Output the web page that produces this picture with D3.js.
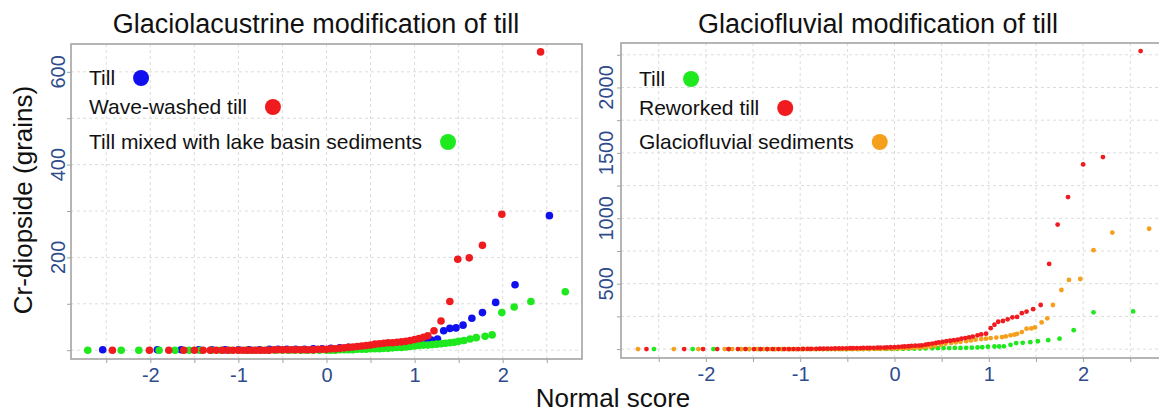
<!DOCTYPE html>
<html>
<head>
<meta charset="utf-8">
<script src="https://cdn.jsdelivr.net/npm/d3@7"></script>
<style>
  body { margin: 0; background: #fff; }
  svg { display: block; font-family: "Liberation Sans", Arial, sans-serif; }
</style>
</head>
<body>
<script>
// ---- data: [normal score, grains] ----

// left panel, glaciolacustrine
var lakeTill = [[-2.54,1],[-1.92,1],[-1.65,1],[-1.45,1],[-1.30,1],[-1.15,1],[-1.00,1],[-0.88,1],[-0.76,1],
  [-0.65,2],[-0.55,2],[-0.45,2],[-0.35,2],[-0.25,2],[-0.15,3],[-0.05,3],[0.05,4],[0.15,5],[0.25,6],[0.35,7],
  [0.45,8],[0.55,9],[0.65,10],[0.75,12],[0.85,14],[0.95,16],[1.05,18],[1.12,20],[1.19,22],[1.26,24],
  [1.33,42],[1.40,47],[1.47,48],[1.55,54],[1.65,69],[1.77,81],[1.92,103],[2.14,141],[2.53,290]];

var waveWashed = [[-2.43,0],[-2.01,0],[-1.79,0],[-1.62,0],[-1.50,0],[-1.40,0],[-1.32,0],[-1.25,0],[-1.18,0],
  [-1.12,0],[-1.06,0],[-1.00,0],[-0.95,0],[-0.90,0],[-0.85,0],[-0.80,0],[-0.75,0],[-0.70,0],[-0.65,0],
  [-0.60,1],[-0.55,1],[-0.50,1],[-0.45,1],[-0.40,1],[-0.35,1],[-0.30,1],[-0.25,1],[-0.20,1],[-0.15,1],
  [-0.10,2],[-0.05,2],[0,2],[0.05,3],[0.10,3],[0.15,4],[0.20,5],[0.25,6],[0.30,7],[0.35,8],[0.40,9],
  [0.45,10],[0.50,11],[0.55,13],[0.60,14],[0.65,15],[0.70,16],[0.75,16],[0.80,17],[0.85,18],[0.90,19],
  [0.95,21],[1.00,23],[1.05,25],[1.10,28],[1.15,31],[1.22,42],[1.30,63],[1.40,105],[1.49,196],[1.62,199],
  [1.77,226],[1.99,293],[2.43,643]];

var lakeMixed = [[-2.71,0],[-2.33,0],[-2.13,0],[-1.90,0],[-1.72,0],[-1.56,0],[-1.43,0],[-1.31,0],[-1.20,0],
  [-1.10,0],[-1.00,0],[-0.91,0],[-0.82,0],[-0.74,0],[-0.66,0],[-0.58,0],[-0.50,0],[-0.43,0],[-0.36,0],
  [-0.29,0],[-0.22,0],[-0.15,0],[-0.08,0],[0,0],[0.05,0],[0.10,0],[0.15,1],[0.20,1],[0.25,1],[0.30,1],
  [0.35,2],[0.40,2],[0.45,2],[0.50,3],[0.55,3],[0.60,3],[0.65,4],[0.70,4],[0.75,5],[0.80,6],[0.85,6],
  [0.90,7],[0.95,8],[1.00,9],[1.05,10],[1.10,11],[1.15,11],[1.20,12],[1.25,13],[1.30,14],[1.35,15],
  [1.40,16],[1.45,17],[1.50,19],[1.56,21],[1.63,24],[1.70,27],[1.80,30],[1.88,33],[1.99,81],[2.13,93],
  [2.32,105],[2.71,126]];

// right panel, glaciofluvial
var fluvTill = [[-2.55,0],[-2.14,0],[-1.92,0],[-1.75,0],[-1.63,0],[-1.54,0],[-1.44,0],[-1.35,0],[-1.27,0],
  [-1.19,0],[-1.11,0],[-1.04,0],[-0.97,0],[-0.90,0],[-0.83,0],[-0.76,0],[-0.70,0],[-0.63,0],[-0.57,0],
  [-0.51,0],[-0.45,0],[-0.39,0],[-0.33,0],[-0.27,0],[-0.21,1],[-0.15,1],[-0.09,1],[-0.03,1],[0.03,2],
  [0.09,2],[0.15,3],[0.21,3],[0.27,4],[0.33,5],[0.40,6],[0.46,7],[0.52,8],[0.58,8],[0.64,9],[0.70,9],
  [0.76,10],[0.82,11],[0.88,13],[0.93,15],[0.99,18],[1.06,20],[1.11,20],[1.16,21],[1.23,33],[1.29,46],
  [1.36,48],[1.44,53],[1.52,60],[1.63,68],[1.75,80],[1.90,145],[2.11,281],[2.53,288]];

var reworked = [[-2.63,0],[-2.23,0],[-2.03,0],[-1.88,0],[-1.76,0],[-1.66,0],[-1.58,0],[-1.49,0],[-1.42,0],
  [-1.35,0],[-1.29,0],[-1.23,0],[-1.17,0],[-1.12,0],[-1.07,0],[-1.02,0],[-0.97,1],[-0.92,1],[-0.88,2],
  [-0.83,2],[-0.79,3],[-0.75,3],[-0.71,4],[-0.67,4],[-0.63,5],[-0.59,5],[-0.55,6],[-0.51,6],[-0.47,7],
  [-0.44,7],[-0.40,8],[-0.36,8],[-0.33,9],[-0.29,9],[-0.26,10],[-0.22,10],[-0.18,11],[-0.15,12],[-0.11,12],
  [-0.08,13],[-0.04,14],[0,15],[0.04,17],[0.08,19],[0.11,20],[0.15,22],[0.18,24],[0.22,26],[0.26,27],
  [0.29,28],[0.33,34],[0.36,38],[0.40,42],[0.44,47],[0.47,51],[0.51,56],[0.55,61],[0.59,64],[0.63,68],
  [0.67,72],[0.71,80],[0.75,84],[0.79,90],[0.83,96],[0.88,105],[0.92,112],[0.97,118],[1.02,160],[1.06,186],
  [1.10,209],[1.15,215],[1.20,228],[1.25,243],[1.30,246],[1.35,275],[1.40,287],[1.47,305],[1.55,337],
  [1.64,651],[1.73,952],[1.84,1162],[2.00,1412],[2.21,1468],[2.61,2278]];

var fluvSed = [[-2.72,0],[-2.34,0],[-2.08,0],[-1.80,0],[-1.72,0],[-1.62,0],[-1.54,0],[-1.46,0],[-1.39,0],
  [-1.32,0],[-1.26,0],[-1.20,0],[-1.14,0],[-1.09,0],[-1.04,0],[-0.99,0],[-0.94,0],[-0.89,0],[-0.85,0],
  [-0.80,0],[-0.76,0],[-0.72,0],[-0.67,0],[-0.63,0],[-0.59,0],[-0.55,0],[-0.52,0],[-0.48,1],[-0.44,1],
  [-0.40,1],[-0.37,1],[-0.33,2],[-0.29,2],[-0.26,2],[-0.22,3],[-0.18,3],[-0.15,3],[-0.11,4],[-0.07,4],
  [-0.04,5],[0,5],[0.04,6],[0.07,7],[0.11,8],[0.14,9],[0.18,10],[0.22,12],[0.26,13],[0.29,15],[0.33,17],
  [0.38,20],[0.43,26],[0.49,33],[0.54,40],[0.60,46],[0.65,51],[0.70,56],[0.76,61],[0.81,66],[0.86,72],
  [0.92,77],[0.97,80],[1.02,84],[1.08,88],[1.14,92],[1.18,97],[1.23,105],[1.27,110],[1.30,117],[1.35,130],
  [1.40,156],[1.45,158],[1.49,166],[1.56,204],[1.62,235],[1.68,337],[1.77,452],[1.85,529],[1.97,536],
  [2.11,756],[2.31,891],[2.70,920]];

// ticks and labels
var scoreTicks = [-2.5, -2, -1.5, -1, -0.5, 0, 0.5, 1, 1.5, 2, 2.5];
var lakeTicks = [0, 100, 200, 300, 400, 500, 600];
var lakeLabels = [200, 400, 600];
var fluvTicks = [0, 250, 500, 750, 1000, 1250, 1500, 1750, 2000, 2250];
var fluvLabels = [500, 1000, 1500, 2000];

var lakeNames = ["Till", "Wave-washed till", "Till mixed with lake basin sediments"];
var fluvNames = ["Till", "Reworked till", "Glaciofluvial sediments"];

var blue = "#1010ee", red = "#f01b1f", green = "#1ee81e", orange = "#f5a01c";
var tickBlue = "#2e4c8c";

window.onload = drawChart;

function drawChart(){

    var width = 1159,
        height = 414;

    var svg = d3.select("body")
      .append("svg")
      .attr("width", width)
      .attr("height", height);

    // left panel
    drawPanel(svg, {
      title: "Glaciolacustrine modification of till",
      titleX: 316,
      left: 71, right: 582, top: 44, bottom: 359,
      yDomain: [-19, 660],
      yTicks: lakeTicks, yLabels: lakeLabels, labelX: 65,
      series: [lakeTill, lakeMixed, waveWashed],
      colors: [blue, green, red],
      r: 3.8,
      names: lakeNames, legendColors: [blue, red, green],
      legendX: 89, legendY: [78, 107, 142]
    });

    // right panel (runs off the right edge like the source image)
    drawPanel(svg, {
      title: "Glaciofluvial modification of till",
      titleX: 878,
      left: 621, right: 1168, top: 43, bottom: 358,
      yDomain: [-68, 2340],
      yTicks: fluvTicks, yLabels: fluvLabels, labelX: 613,
      series: [fluvTill, fluvSed, reworked],
      colors: [green, orange, red],
      r: 2.4,
      names: fluvNames, legendColors: [green, red, orange],
      legendX: 639, legendY: [79, 108, 142]
    });

    // shared axis titles
    svg.append("text")
      .attr("transform", "translate(32,200) rotate(-90)")
      .attr("text-anchor", "middle")
      .style("font-size", "26px")
      .style("fill", "#111")
      .text("Cr-diopside (grains)");

    svg.append("text")
      .attr("x", 613)
      .attr("y", 407)
      .attr("text-anchor", "middle")
      .style("font-size", "26px")
      .style("fill", "#111")
      .text("Normal score");
};

function drawPanel(svg, o){

    var x = d3.scaleLinear().domain([-2.9, 2.9]).range([o.left, o.right]);
    var y = d3.scaleLinear().domain(o.yDomain).range([o.bottom, o.top]);

    var g = svg.append("g");

    // dashed grid
    g.selectAll(".vgrid")
      .data(scoreTicks)
      .enter()
      .append("line")
      .attr("x1", function(d){ return x(d); })
      .attr("x2", function(d){ return x(d); })
      .attr("y1", o.top)
      .attr("y2", o.bottom)
      .style("stroke", "#dcdcdc")
      .style("stroke-dasharray", "3,3");

    g.selectAll(".hgrid")
      .data(o.yTicks)
      .enter()
      .append("line")
      .attr("x1", o.left)
      .attr("x2", o.right)
      .attr("y1", function(d){ return y(d); })
      .attr("y2", function(d){ return y(d); })
      .style("stroke", "#dcdcdc")
      .style("stroke-dasharray", "3,3");

    // frame
    g.append("rect")
      .attr("x", o.left)
      .attr("y", o.top)
      .attr("width", o.right - o.left)
      .attr("height", o.bottom - o.top)
      .style("fill", "none")
      .style("stroke", "#a3a3a3")
      .style("stroke-width", 1.6);

    // x axis
    var xAxis = g.append("g")
      .attr("transform", "translate(0," + o.bottom + ")")
      .call(d3.axisBottom(x)
        .tickValues(scoreTicks)
        .tickSize(4)
        .tickPadding(5)
        .tickFormat(function(d){ return Number.isInteger(d) ? String(d) : ""; }));
    xAxis.select(".domain").remove();
    xAxis.selectAll("line").style("stroke", "#a3a3a3");
    xAxis.selectAll("text")
      .style("font-size", "20px")
      .style("font-family", "'Liberation Sans', Arial, sans-serif")
      .style("fill", tickBlue);

    // y axis ticks
    var yAxis = g.append("g")
      .attr("transform", "translate(" + o.left + ",0)")
      .call(d3.axisLeft(y).tickValues(o.yTicks).tickSize(4).tickFormat(""));
    yAxis.select(".domain").remove();
    yAxis.selectAll("line").style("stroke", "#a3a3a3");

    // rotated y labels
    g.selectAll(".ylab")
      .data(o.yLabels)
      .enter()
      .append("text")
      .attr("transform", function(d){ return "translate(" + o.labelX + "," + y(d) + ") rotate(-90)"; })
      .attr("text-anchor", "middle")
      .style("font-size", "20px")
      .style("fill", tickBlue)
      .text(function(d){ return d; });

    // points
    o.series.forEach(function(s, i){
      g.selectAll(null)
        .data(s)
        .enter()
        .append("circle")
        .attr("cx", function(d){ return x(d[0]); })
        .attr("cy", function(d){ return y(d[1]); })
        .attr("r", o.r)
        .style("fill", o.colors[i]);
    });

    // title
    svg.append("text")
      .attr("x", o.titleX)
      .attr("y", 33)
      .attr("text-anchor", "middle")
      .style("font-size", "27px")
      .style("fill", "#111")
      .text(o.title);

    // legend
    o.names.forEach(function(name, i){
      var t = g.append("text")
        .attr("x", o.legendX)
        .attr("y", o.legendY[i] + 7)
        .style("font-size", "21px")
        .style("fill", "#111")
        .text(name);
      var w = t.node().getComputedTextLength();
      g.append("circle")
        .attr("cx", o.legendX + w + 26)
        .attr("cy", o.legendY[i])
        .attr("r", 8)
        .style("fill", o.legendColors[i]);
    });
};
</script>
</body>
</html>
